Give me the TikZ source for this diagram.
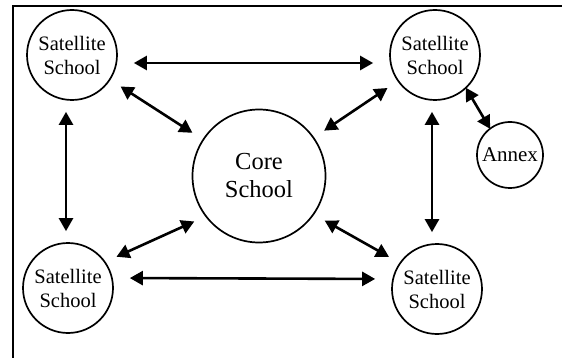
\documentclass[tikz,border=0pt]{standalone}
\usepackage{fontspec}
\setmainfont{Liberation Serif}
\usetikzlibrary{arrows.meta}
\begin{document}
\begin{tikzpicture}[x=1pt,y=-1pt,
  school/.style={circle,draw,line width=1.7pt,inner sep=0pt,align=center},
  sat/.style={school,minimum size=90pt,font=\fontsize{20.5}{24}\selectfont},
  link/.style={line width=2.6pt,{Triangle[length=13pt,width=14pt]}-{Triangle[length=13pt,width=14pt]},shorten <=#1,shorten >=#1},
  link/.default=12pt]
  \useasboundingbox (0,0) rectangle (562,358);
  % outer frame (left and top edges)
  \draw[line width=2.4pt] (13,358) -- (13,6) -- (562,6);

  % schools
  \node[sat] (tl) at (72,55) {Satellite\\School};
  \node[sat] (tr) at (435,55) {Satellite\\School};
  \node[sat] (bl) at (68,288) {Satellite\\School};
  \node[sat] (br) at (437,289) {Satellite\\School};
  \node[school,minimum size=133pt,font=\fontsize{24.5}{28}\selectfont] (core) at (259,176) {Core\\School};
  \node[school,minimum size=66pt,font=\fontsize{21}{24}\selectfont] (annex) at (510,155) {Annex};

  % links between schools
  \draw[link=16pt] ([yshift=-8pt]tl.east) -- ([yshift=-8pt]tr.west);
  \draw[link=16pt] ([yshift=10pt]bl.east) -- ([yshift=10pt]br.west);
  \draw[link=11pt] ([xshift=-6pt]tl.south) -- ([xshift=-2pt]bl.north);
  \draw[link=11pt] ([xshift=-3pt]tr.south) -- ([xshift=-5pt]br.north);
  \draw[link] (tl.-33) -- (core.147);
  \draw[link] (tr.-145) -- (core.35);
  \draw[link] (bl.35) -- (core.-143);
  \draw[link] (br.145) -- (core.-35);
  \draw[link=-1pt] (tr.-47) -- (annex.127);
\end{tikzpicture}
\end{document}
